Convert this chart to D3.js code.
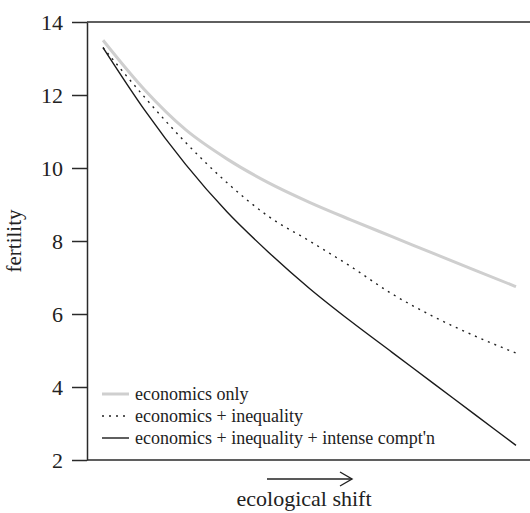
<!DOCTYPE html>
<html>
<head>
<meta charset="utf-8">
<script src="https://cdn.jsdelivr.net/npm/d3@7"></script>
<style>
  html, body { margin: 0; padding: 0; background: #fff; }
  svg text { font-family: "Liberation Serif", "Times New Roman", serif; fill: #222; }
</style>
</head>
<body>
<svg id="chart" width="530" height="513"></svg>
<script>
// Position along the ecological gradient (arbitrary units, 0 to 1)
const shift = [0, 0.1, 0.2, 0.3, 0.4, 0.5, 0.6, 0.7, 0.8, 0.9, 1.0];

// Fertility under the three model scenarios
const economicsOnly = [13.5, 12.15, 11.05, 10.25, 9.6, 9.06, 8.58, 8.12, 7.66, 7.2, 6.75];
const withInequality = [13.3, 11.95, 10.7, 9.6, 8.68, 8.0, 7.3, 6.55, 5.93, 5.4, 4.93];
const withCompetition = [13.3, 11.6, 10.1, 8.8, 7.7, 6.7, 5.8, 4.95, 4.1, 3.25, 2.4];

const yTicks = [2, 4, 6, 8, 10, 12, 14];

const seriesNames = ["economics only", "economics + inequality", "economics + inequality + intense compt'n"];

const svg = d3.select("#chart");
const margin = { left: 87, top: 22, right: 0, bottom: 53 };
const W = 530, H = 513;

const x = d3.scaleLinear().domain([0, 1]).range([103, 516]);
const y = d3.scaleLinear().domain([2, 14]).range([H - margin.bottom, margin.top]);

const axisColor = "#2a2a2a";

// Left axis with outward ticks
const yAxis = svg.append("g")
  .attr("transform", `translate(${margin.left},0)`)
  .call(d3.axisLeft(y).tickValues(yTicks).tickSize(15).tickPadding(9).tickSizeOuter(0));
yAxis.select(".domain").attr("stroke", axisColor).attr("stroke-width", 1.5);
yAxis.selectAll(".tick line").attr("stroke", axisColor).attr("stroke-width", 1.5);
yAxis.selectAll(".tick text")
  .style("font-family", "'Liberation Serif', serif")
  .style("font-size", "22px")
  .attr("fill", "#222");

// Top and bottom frame lines
[14, 2].forEach(v => {
  svg.append("line")
    .attr("x1", margin.left).attr("x2", W)
    .attr("y1", y(v)).attr("y2", y(v))
    .attr("stroke", axisColor).attr("stroke-width", 1.5);
});

// Series curves
const styles = [
  { data: economicsOnly, stroke: "#cfcfcf", width: 3, dash: null },
  { data: withInequality, stroke: "#222", width: 1.4, dash: "2,5" },
  { data: withCompetition, stroke: "#1a1a1a", width: 1.4, dash: null }
];

const line = d3.line()
  .x(d => x(d[0]))
  .y(d => y(d[1]))
  .curve(d3.curveMonotoneX);

styles.forEach(s => {
  svg.append("path")
    .datum(shift.map((t, i) => [t, s.data[i]]))
    .attr("d", line)
    .attr("fill", "none")
    .attr("stroke", s.stroke)
    .attr("stroke-width", s.width)
    .attr("stroke-dasharray", s.dash);
});

// Legend
const legend = svg.append("g").attr("transform", "translate(102,394)");
styles.forEach((s, i) => {
  const g = legend.append("g").attr("transform", `translate(0,${i * 22})`);
  g.append("line")
    .attr("x1", 0).attr("x2", 27)
    .attr("stroke", s.stroke)
    .attr("stroke-width", s.width)
    .attr("stroke-dasharray", s.dash);
  g.append("text")
    .attr("x", 33).attr("y", 0).attr("dy", "0.32em")
    .style("font-size", "18px")
    .text(seriesNames[i]);
});

// Y axis title
svg.append("text")
  .attr("transform", `translate(21,${y(8)}) rotate(-90)`)
  .attr("text-anchor", "middle")
  .style("font-size", "21px")
  .text("fertility");

// Direction arrow beneath the x axis
const ay = 479, ax0 = 267, ax1 = 352;
svg.append("line")
  .attr("x1", ax0).attr("x2", ax1).attr("y1", ay).attr("y2", ay)
  .attr("stroke", "#222").attr("stroke-width", 1.4);
svg.append("path")
  .attr("d", `M${ax1 - 12},${ay - 7} L${ax1},${ay} L${ax1 - 12},${ay + 7}`)
  .attr("fill", "none").attr("stroke", "#222").attr("stroke-width", 1.4);

svg.append("text")
  .attr("x", 304).attr("y", 506)
  .attr("text-anchor", "middle")
  .style("font-size", "22px")
  .text("ecological shift");
</script>
</body>
</html>
